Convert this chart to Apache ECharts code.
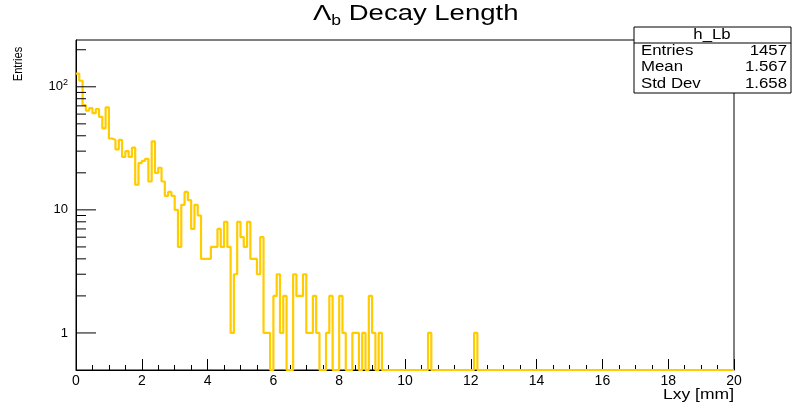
<!DOCTYPE html>
<html><head><meta charset="utf-8">
<script src="https://cdn.jsdelivr.net/npm/echarts@6/dist/echarts.min.js"></script>
<style>html,body{margin:0;padding:0;background:#fff}#c{width:793px;height:405px}</style>
</head><body><div id="c"></div>
<script>
// ---- data ----
const xMin = 0, xMax = 20, binWidth = 0.1;
const yMin = 0.5, yMax = 240;
const counts = [
  128,112,71,64,67,61,66,57,46,68, 38,37,31,37,27,30,27,32,16,24,
  25,26,17,36,20,22,17,13,14,13, 10,5,11,14,12,7,11,9,4,4,
  4,5,5,7,5,8,5,1,3,8, 6,5,8,4,4,3,6,1,1,0,
  2,3,1,2,0,0,3,2,2,3, 1,1,2,1,0,0,1,2,0,0,
  2,1,0,0,1,1,0,1,0,2, 1,0,1,0,0,0,0,0,0,0,
  0,0,0,0,0,0,0,1,0,0, 0,0,0,0,0,0,0,0,0,0,
  0,1,0,0,0,0,0,0,0,0, 0,0,0,0,0,0,0,0,0,0,
  0,0,0,0,0,0,0,0,0,0, 0,0,0,0,0,0,0,0,0,0,
  0,0,0,0,0,0,0,0,0,0, 0,0,0,0,0,0,0,0,0,0,
  0,0,0,0,0,0,0,0,0,0, 0,0,0,0,0,0,0,0,0,0
];
const yMajorTicks = [1, 10, 100];
const yMinorTicks = [2,3,4,5,6,7,8,9,20,30,40,50,60,70,80,90,200];
const yTickLabels = {1: '1', 10: '10', 100: '10{sup|2}'};
const titleMain = 'Λ', titleSub = 'b', titleRest = ' Decay Length';
const xTitle = 'Lxy [mm]', yTitle = 'Entries';
const statsName = 'h_Lb';
const statsLabels = ['Entries', 'Mean', 'Std Dev'];
const statsValues = ['1457', '1.567', '1.658'];

// ---- build ----
const FONT = '"Liberation Sans", Arial, Helvetica, sans-serif';
const histData = counts.map((c, i) => [+(xMin + i * binWidth).toFixed(2), Math.max(c, yMin)]);
histData.push([xMax, Math.max(counts[counts.length - 1], yMin)]);

const tickData = yMajorTicks.map(v => [xMin, v, 1]).concat(yMinorTicks.map(v => [xMin, v, 0]));

const chart = echarts.init(document.getElementById('c'), null, {renderer: 'canvas'});

const statsGraphics = [
  {type: 'rect', shape: {x: 634, y: 27, width: 157, height: 66}, style: {fill: '#fff', stroke: '#000', lineWidth: 1}, z: 100},
  {type: 'line', shape: {x1: 634, y1: 43, x2: 791, y2: 43}, style: {stroke: '#000', lineWidth: 1}, z: 101},
  {type: 'text', x: 712, y: 35, scaleX: 1.2, z: 102,
   style: {text: statsName, fontSize: 14, fontFamily: FONT, fill: '#000', align: 'center', verticalAlign: 'middle'}}
];
statsLabels.forEach((lab, i) => {
  const y = 51 + i * 16.5;
  statsGraphics.push({type: 'text', x: 641, y: y, scaleX: 1.2, z: 102,
    style: {text: lab, fontSize: 14, fontFamily: FONT, fill: '#000', align: 'left', verticalAlign: 'middle'}});
  statsGraphics.push({type: 'text', x: 787, y: y, scaleX: 1.2, z: 102,
    style: {text: statsValues[i], fontSize: 14, fontFamily: FONT, fill: '#000', align: 'right', verticalAlign: 'middle'}});
});

const option = {
  animation: false,
  backgroundColor: '#fff',
  grid: {left: 76, right: 59, top: 40, bottom: 35, show: true, borderColor: '#000', borderWidth: 1, backgroundColor: 'transparent'},
  xAxis: {
    type: 'value', min: xMin, max: xMax, interval: 2,
    axisLine: {show: true, onZero: false, lineStyle: {color: '#000', width: 1}},
    axisTick: {show: true, inside: true, length: 11, lineStyle: {color: '#000'}},
    minorTick: {show: true, splitNumber: 4, length: 5, lineStyle: {color: '#000'}},
    splitLine: {show: false}, minorSplitLine: {show: false},
    axisLabel: {color: '#000', fontSize: 14, fontFamily: FONT, margin: 4}
  },
  yAxis: {
    type: 'log', min: yMin, max: yMax, logBase: 10,
    axisLine: {show: true, lineStyle: {color: '#000', width: 1}},
    axisTick: {show: false}, splitLine: {show: false}, minorTick: {show: false},
    axisLabel: {
      color: '#000', fontSize: 13, fontFamily: FONT, margin: 8,
      showMinLabel: false, showMaxLabel: false,
      formatter: function (v) {
        for (const k of yMajorTicks) { if (Math.abs(v - k) < k * 1e-6) return yTickLabels[k]; }
        return '';
      },
      rich: {sup: {fontSize: 9, fontFamily: FONT, color: '#000', padding: [0, 0, 9, 0]}}
    }
  },
  series: [
    {
      type: 'line', step: 'end', data: histData, symbol: 'none', showSymbol: false,
      clip: false, z: 3,
      lineStyle: {color: '#ffcc00', width: 2.2}
    },
    {
      type: 'custom', data: tickData, z: 4, silent: true, clip: false,
      renderItem: function (params, api) {
        const p = api.coord([api.value(0), api.value(1)]);
        const len = api.value(2) ? 20 : 10;
        return {type: 'line', shape: {x1: p[0], y1: p[1], x2: p[0] + len, y2: p[1]}, style: {stroke: '#000', lineWidth: 1}};
      }
    }
  ],
  graphic: [
    {type: 'text', x: 313, y: 14, scaleX: 1.25, z: 50,
     style: {text: '{L|' + titleMain + '}{s|' + titleSub + '}{t|' + titleRest + '}', fontSize: 22, fontFamily: FONT, fill: '#000', align: 'left', verticalAlign: 'middle',
       rich: {L: {fontSize: 22, fontFamily: FONT, fill: '#000'}, s: {fontSize: 14, fontFamily: FONT, fill: '#000', padding: [14, 0, 0, 0]}, t: {fontSize: 22, fontFamily: FONT, fill: '#000'}}}},
    {type: 'text', x: 734, y: 395, scaleX: 1.25, z: 50,
     style: {text: xTitle, fontSize: 14, fontFamily: FONT, fill: '#000', align: 'right', verticalAlign: 'middle'}},
    {type: 'text', x: 18, y: 64, rotation: Math.PI / 2, scaleX: 0.85, z: 50,
     style: {text: yTitle, fontSize: 13, fontFamily: FONT, fill: '#000', align: 'center', verticalAlign: 'middle'}}
  ].concat(statsGraphics)
};
chart.setOption(option);
</script>
</body></html>
